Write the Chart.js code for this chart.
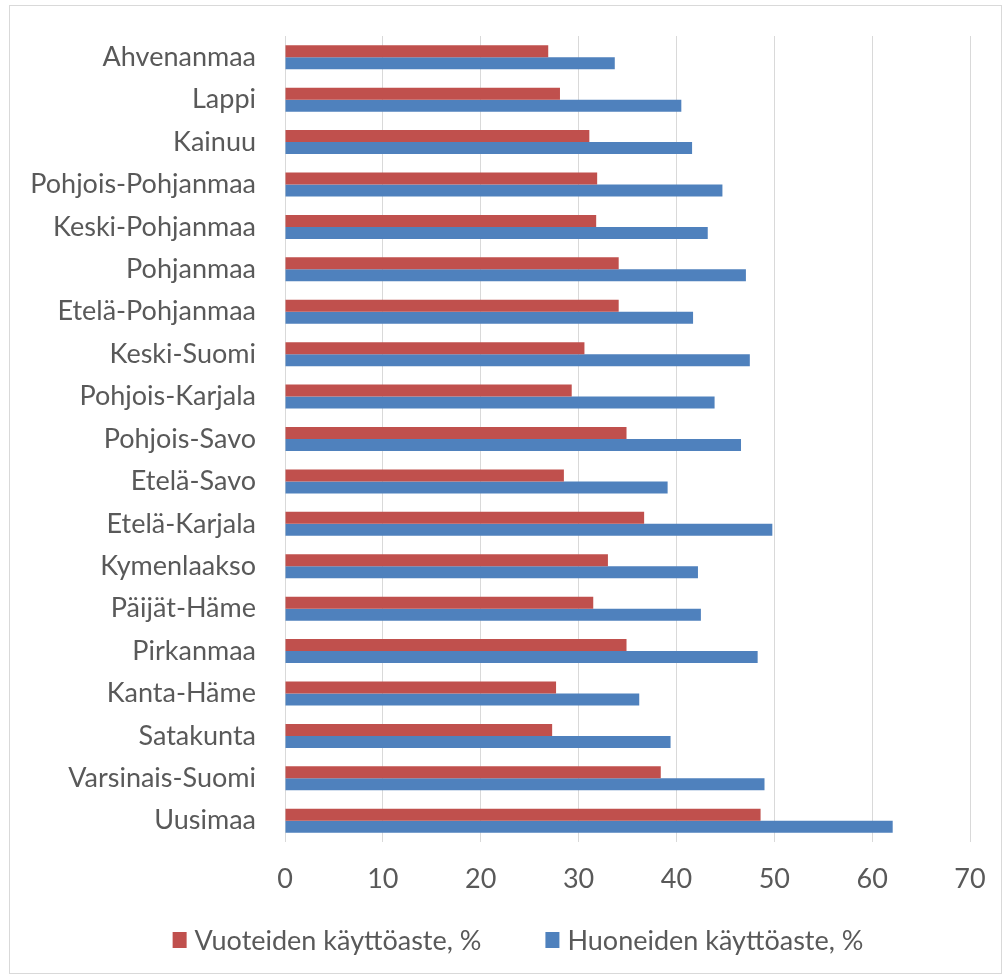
<!DOCTYPE html>
<html>
<head>
<meta charset="utf-8">
<script src="https://cdn.jsdelivr.net/npm/chart.js@4.4.1/dist/chart.umd.min.js"></script>
<style>
html,body{margin:0;padding:0;background:#fff;}
#wrap{position:relative;width:1002px;height:976px;}
canvas{display:block;}
</style>
</head>
<body>
<div id="wrap"><canvas id="c" width="1002" height="976"></canvas></div>
<script>
const categories = ["Ahvenanmaa","Lappi","Kainuu","Pohjois-Pohjanmaa","Keski-Pohjanmaa","Pohjanmaa","Etelä-Pohjanmaa","Keski-Suomi","Pohjois-Karjala","Pohjois-Savo","Etelä-Savo","Etelä-Karjala","Kymenlaakso","Päijät-Häme","Pirkanmaa","Kanta-Häme","Satakunta","Varsinais-Suomi","Uusimaa"];
const vuoteiden = [26.9,28.1,31.1,31.9,31.8,34.1,34.1,30.6,29.3,34.9,28.5,36.7,33.0,31.5,34.9,27.7,27.3,38.4,48.6];
const huoneiden = [33.7,40.5,41.6,44.7,43.2,47.1,41.7,47.5,43.9,46.6,39.1,49.8,42.2,42.5,48.3,36.2,39.4,49.0,62.1];
const seriesNames = ["Vuoteiden käyttöaste, %","Huoneiden käyttöaste, %"];
const xTicks = [0,10,20,30,40,50,60,70];

const FONT = "Lato, 'Open Sans', sans-serif";
const TXT = "#595959";
const FS = 27;

const borderPlugin = {
  id: 'outerBorder',
  beforeDraw(chart){
    const ctx = chart.ctx;
    ctx.save();
    ctx.fillStyle = '#fff';
    ctx.fillRect(0,0,chart.width,chart.height);
    ctx.strokeStyle = '#d9d9d9';
    ctx.lineWidth = 1;
    ctx.strokeRect(9.5,5.5,chart.width-10,chart.height-8);
    ctx.restore();
  }
};

const legendPlugin = {
  id: 'bottomLegend',
  afterDraw(chart){
    const ctx = chart.ctx;
    const ds = chart.data.datasets;
    ctx.save();
    ctx.font = FS + 'px ' + FONT;
    ctx.textBaseline = 'middle';
    ctx.textAlign = 'left';
    const box = 14, boxH = 16, gapText = 8, gapItem = 64;
    const widths = ds.map(d => box + gapText + ctx.measureText(d.label).width);
    const total = widths.reduce((a,b)=>a+b,0) + gapItem*(ds.length-1);
    let x = 518 - total/2;
    const cy = 940;
    ds.forEach((d,i) => {
      ctx.fillStyle = d.backgroundColor;
      ctx.fillRect(x, cy - boxH/2, box, boxH);
      ctx.fillStyle = TXT;
      ctx.fillText(d.label, x + box + gapText, cy + 1);
      x += widths[i] + gapItem;
    });
    ctx.restore();
  }
};

new Chart(document.getElementById('c'), {
  type: 'bar',
  data: {
    labels: categories,
    datasets: [
      {label: seriesNames[0], data: vuoteiden, backgroundColor: '#C0504D', borderWidth: 0},
      {label: seriesNames[1], data: huoneiden, backgroundColor: '#4F81BD', borderWidth: 0}
    ]
  },
  options: {
    indexAxis: 'y',
    responsive: false,
    animation: false,
    devicePixelRatio: 1,
    categoryPercentage: 0.566,
    barPercentage: 1,
    layout: {padding: {left: 0, right: 32, top: 36, bottom: 0}},
    scales: {
      x: {
        min: 0, max: 70,
        afterBuildTicks(scale){ scale.ticks = xTicks.map(v => ({value: v})); },
        grid: {color: '#d9d9d9', lineWidth: 1, drawTicks: false},
        border: {display: false},
        ticks: {color: TXT, font: {family: FONT, size: FS}, padding: 21},
        afterFit(scale){ scale.height = 134; scale.paddingLeft = 0; scale.paddingRight = 0; }
      },
      y: {
        grid: {display: false, drawTicks: false},
        border: {display: false},
        ticks: {color: TXT, font: {family: FONT, size: FS}, padding: 29},
        afterFit(scale){ scale.width = 285; scale.paddingTop = 0; scale.paddingBottom = 0; }
      }
    },
    plugins: {
      legend: {display: false},
      tooltip: {enabled: false}
    }
  },
  plugins: [borderPlugin, legendPlugin]
});
</script>
</body>
</html>
